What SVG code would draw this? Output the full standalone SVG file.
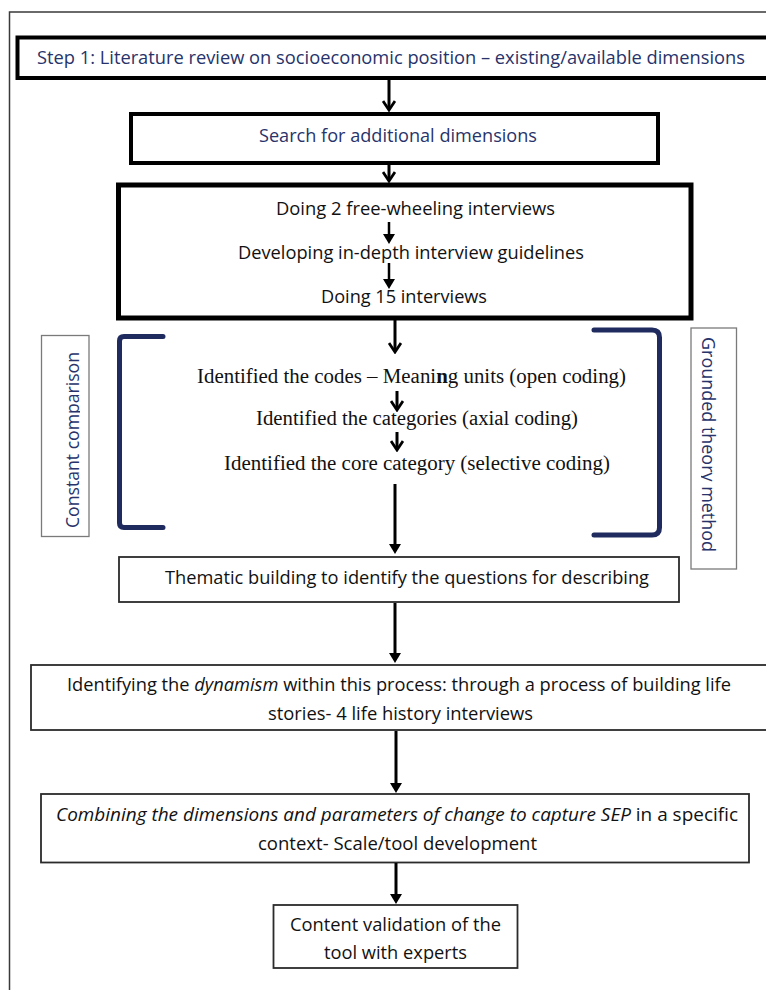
<svg xmlns="http://www.w3.org/2000/svg" width="766" height="990" viewBox="0 0 766 990">
<style>
  .bg { fill: #ffffff; }
  .frame { fill: none; stroke: #3a3a3a; stroke-width: 1.5; }
  .thick { fill: #ffffff; stroke: #000000; stroke-width: 4; }
  .xthick { fill: #ffffff; stroke: #000000; stroke-width: 5; }
  .thin { fill: #ffffff; stroke: #2b2b2b; stroke-width: 1.8; }
  .side { fill: #ffffff; stroke: #7a7a7a; stroke-width: 1.3; }
  .sans { font-family: "Open Sans", "Liberation Sans", sans-serif; font-size: 18.5px; fill: #111111; }
  .blue { fill: #27336a; }
  .serif { font-family: "Liberation Serif", "Times New Roman", serif; font-size: 20px; fill: #111111; }
  .side-text { font-family: "Open Sans", "Liberation Sans", sans-serif; font-size: 19px; fill: #27336a; }
  .brk { fill: none; stroke: #1f2a5e; stroke-width: 5; stroke-linecap: round; stroke-linejoin: round; }
  .arr { fill: none; stroke: #000000; stroke-width: 3; }
  .arr-s { fill: none; stroke: #000000; stroke-width: 2.5; }
</style>
<defs>
  <marker id="tri" viewBox="0 0 10 12" refX="7" refY="6" markerWidth="10" markerHeight="12" markerUnits="userSpaceOnUse" orient="auto">
    <path d="M0,0 L10,6 L0,12 z" fill="#000000"/>
  </marker>
  <marker id="chev" viewBox="0 0 12 14" refX="9" refY="7" markerWidth="12" markerHeight="14" markerUnits="userSpaceOnUse" orient="auto">
    <path d="M1,1 L10,7 L1,13" fill="none" stroke="#000000" stroke-width="2.8"/>
  </marker>
  <clipPath id="clipDesc" clipPathUnits="userSpaceOnUse">
    <rect x="-300" y="-40" width="600" height="41"/>
  </clipPath>
</defs>
<rect class="bg" x="0" y="0" width="766" height="990"/>
<rect class="frame" x="9.5" y="12" width="800" height="1000"/>

<g id="step1">
  <rect class="thick" x="17.5" y="37.5" width="790" height="40.5"/>
  <text class="sans blue" x="37" y="64" font-size="19.5" textLength="708" lengthAdjust="spacingAndGlyphs">Step 1: Literature review on socioeconomic position – existing/available dimensions</text>
</g>

<g id="search">
  <rect class="thick" x="131" y="114" width="527" height="49"/>
  <text class="sans blue" x="259" y="142" textLength="278" lengthAdjust="spacingAndGlyphs">Search for additional dimensions</text>
</g>

<g id="interviews">
  <rect class="xthick" x="118.5" y="185" width="572.5" height="133"/>
  <text class="sans" x="276" y="215" textLength="279" lengthAdjust="spacingAndGlyphs">Doing 2 free-wheeling interviews</text>
  <text class="sans" x="238" y="259" textLength="346" lengthAdjust="spacingAndGlyphs">Developing in-depth interview guidelines</text>
  <text class="sans" x="321" y="303" textLength="166" lengthAdjust="spacingAndGlyphs">Doing 15 interviews</text>
</g>

<g id="coding">
  <path class="brk" d="M163,336.5 L124,336.5 Q119.5,336.5 119.5,341 L119.5,523 Q119.5,527.5 124,527.5 L163,527.5"/>
  <path class="brk" d="M594,330 L652,330 Q659.5,330 659.5,337.5 L659.5,527.5 Q659.5,535 652,535 L594,535"/>
  <text class="serif" x="197" y="383" textLength="429" lengthAdjust="spacingAndGlyphs">Identified the codes – Meani<tspan font-weight="bold">n</tspan>g units (open coding)</text>
  <text class="serif" x="256" y="425" textLength="322" lengthAdjust="spacingAndGlyphs">Identified the categories (axial coding)</text>
  <text class="serif" x="224" y="470" textLength="386" lengthAdjust="spacingAndGlyphs">Identified the core category (selective coding)</text>
</g>

<g id="constant-comparison">
  <rect class="side" x="41.5" y="335.5" width="47.5" height="201"/>
  <text class="side-text" transform="translate(79,440) rotate(-90)" x="0" y="0" text-anchor="middle" textLength="176" lengthAdjust="spacingAndGlyphs" clip-path="url(#clipDesc)">Constant comparison</text>
</g>

<g id="grounded-theory">
  <rect class="side" x="691" y="328" width="45.5" height="241"/>
  <text class="side-text" transform="translate(702,444.5) rotate(90)" x="0" y="0" text-anchor="middle" textLength="215" lengthAdjust="spacingAndGlyphs" clip-path="url(#clipDesc)">Grounded theory method</text>
</g>

<g id="thematic">
  <rect class="thin" x="119" y="557" width="560" height="45"/>
  <text class="sans" x="165" y="584" textLength="484" lengthAdjust="spacingAndGlyphs">Thematic building to identify the questions for describing</text>
</g>

<g id="dynamism">
  <rect class="thin" x="31" y="665" width="780" height="65"/>
  <text class="sans" x="67" y="691" textLength="664" lengthAdjust="spacingAndGlyphs">Identifying the <tspan font-style="italic">dynamism</tspan> within this process: through a process of building life</text>
  <text class="sans" x="268" y="720" textLength="265" lengthAdjust="spacingAndGlyphs">stories- 4 life history interviews</text>
</g>

<g id="combining">
  <rect class="thin" x="41" y="794" width="708" height="68.5"/>
  <text class="sans" x="56" y="821" textLength="682" lengthAdjust="spacingAndGlyphs"><tspan font-style="italic">Combining the dimensions and parameters of change to capture SEP</tspan> in a specific</text>
  <text class="sans" x="258" y="850" textLength="279" lengthAdjust="spacingAndGlyphs">context- Scale/tool development</text>
</g>

<g id="validation">
  <rect class="thin" x="273.5" y="905" width="244" height="63"/>
  <text class="sans" x="290" y="931" textLength="211" lengthAdjust="spacingAndGlyphs">Content validation of the</text>
  <text class="sans" x="324" y="959" textLength="143" lengthAdjust="spacingAndGlyphs">tool with experts</text>
</g>

<g id="connectors">
  <line class="arr" x1="389" y1="80" x2="389" y2="109" marker-end="url(#chev)"/>
  <line class="arr" x1="389" y1="165" x2="389" y2="180" marker-end="url(#chev)"/>
  <line class="arr-s" x1="389" y1="222" x2="389" y2="241" marker-end="url(#tri)"/>
  <line class="arr-s" x1="389" y1="263" x2="389" y2="286" marker-end="url(#tri)"/>
  <line class="arr" x1="395" y1="320" x2="395" y2="351" marker-end="url(#chev)"/>
  <line class="arr" x1="397" y1="391" x2="397" y2="409" marker-end="url(#chev)"/>
  <line class="arr" x1="397" y1="432" x2="397" y2="449" marker-end="url(#chev)"/>
  <line class="arr" x1="395" y1="484" x2="395" y2="551" marker-end="url(#tri)"/>
  <line class="arr" x1="395" y1="603" x2="395" y2="660" marker-end="url(#tri)"/>
  <line class="arr" x1="396" y1="731" x2="396" y2="790" marker-end="url(#tri)"/>
  <line class="arr" x1="396" y1="863" x2="396" y2="901" marker-end="url(#tri)"/>
</g>
</svg>
